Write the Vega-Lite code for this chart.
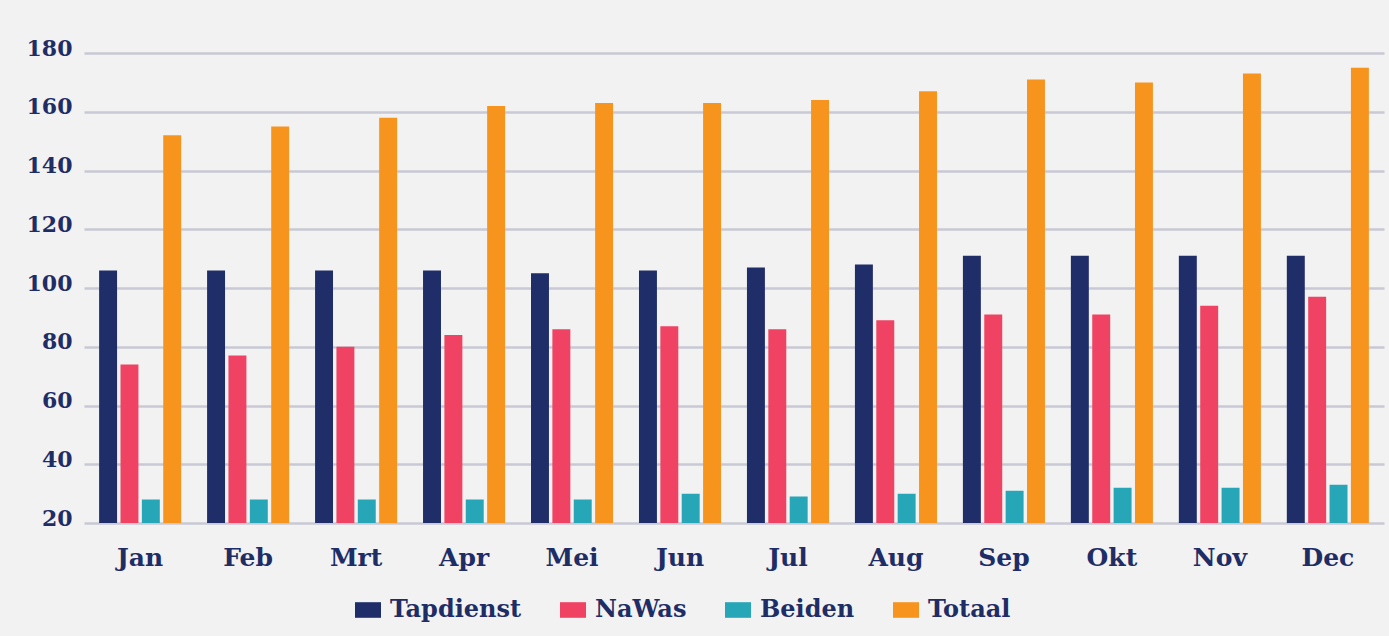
{
  "$schema": "https://vega.github.io/schema/vega-lite/v6.json",
  "width": 1300,
  "height": 470,
  "autosize": {"type": "none"},
  "padding": {"left": 84, "top": 53, "right": 5, "bottom": 113},
  "background": "#f2f2f2",
  "config": {
    "view": {"stroke": null},
    "font": "DejaVu Serif"
  },
  "data": {
    "values": [
      {"maand": "Jan", "reeks": "Tapdienst", "waarde": 106},
      {"maand": "Jan", "reeks": "NaWas", "waarde": 74},
      {"maand": "Jan", "reeks": "Beiden", "waarde": 28},
      {"maand": "Jan", "reeks": "Totaal", "waarde": 152},
      {"maand": "Feb", "reeks": "Tapdienst", "waarde": 106},
      {"maand": "Feb", "reeks": "NaWas", "waarde": 77},
      {"maand": "Feb", "reeks": "Beiden", "waarde": 28},
      {"maand": "Feb", "reeks": "Totaal", "waarde": 155},
      {"maand": "Mrt", "reeks": "Tapdienst", "waarde": 106},
      {"maand": "Mrt", "reeks": "NaWas", "waarde": 80},
      {"maand": "Mrt", "reeks": "Beiden", "waarde": 28},
      {"maand": "Mrt", "reeks": "Totaal", "waarde": 158},
      {"maand": "Apr", "reeks": "Tapdienst", "waarde": 106},
      {"maand": "Apr", "reeks": "NaWas", "waarde": 84},
      {"maand": "Apr", "reeks": "Beiden", "waarde": 28},
      {"maand": "Apr", "reeks": "Totaal", "waarde": 162},
      {"maand": "Mei", "reeks": "Tapdienst", "waarde": 105},
      {"maand": "Mei", "reeks": "NaWas", "waarde": 86},
      {"maand": "Mei", "reeks": "Beiden", "waarde": 28},
      {"maand": "Mei", "reeks": "Totaal", "waarde": 163},
      {"maand": "Jun", "reeks": "Tapdienst", "waarde": 106},
      {"maand": "Jun", "reeks": "NaWas", "waarde": 87},
      {"maand": "Jun", "reeks": "Beiden", "waarde": 30},
      {"maand": "Jun", "reeks": "Totaal", "waarde": 163},
      {"maand": "Jul", "reeks": "Tapdienst", "waarde": 107},
      {"maand": "Jul", "reeks": "NaWas", "waarde": 86},
      {"maand": "Jul", "reeks": "Beiden", "waarde": 29},
      {"maand": "Jul", "reeks": "Totaal", "waarde": 164},
      {"maand": "Aug", "reeks": "Tapdienst", "waarde": 108},
      {"maand": "Aug", "reeks": "NaWas", "waarde": 89},
      {"maand": "Aug", "reeks": "Beiden", "waarde": 30},
      {"maand": "Aug", "reeks": "Totaal", "waarde": 167},
      {"maand": "Sep", "reeks": "Tapdienst", "waarde": 111},
      {"maand": "Sep", "reeks": "NaWas", "waarde": 91},
      {"maand": "Sep", "reeks": "Beiden", "waarde": 31},
      {"maand": "Sep", "reeks": "Totaal", "waarde": 171},
      {"maand": "Okt", "reeks": "Tapdienst", "waarde": 111},
      {"maand": "Okt", "reeks": "NaWas", "waarde": 91},
      {"maand": "Okt", "reeks": "Beiden", "waarde": 32},
      {"maand": "Okt", "reeks": "Totaal", "waarde": 170},
      {"maand": "Nov", "reeks": "Tapdienst", "waarde": 111},
      {"maand": "Nov", "reeks": "NaWas", "waarde": 94},
      {"maand": "Nov", "reeks": "Beiden", "waarde": 32},
      {"maand": "Nov", "reeks": "Totaal", "waarde": 173},
      {"maand": "Dec", "reeks": "Tapdienst", "waarde": 111},
      {"maand": "Dec", "reeks": "NaWas", "waarde": 97},
      {"maand": "Dec", "reeks": "Beiden", "waarde": 33},
      {"maand": "Dec", "reeks": "Totaal", "waarde": 175}
    ]
  },
  "mark": {"type": "bar", "clip": true},
  "encoding": {
    "x": {
      "field": "maand",
      "type": "nominal",
      "sort": ["Jan", "Feb", "Mrt", "Apr", "Mei", "Jun", "Jul", "Aug", "Sep", "Okt", "Nov", "Dec"],
      "scale": {"paddingInner": 0.24, "paddingOuter": 0.14},
      "axis": {
        "title": null,
        "domain": false,
        "ticks": false,
        "labelAngle": 0,
        "labelFont": "DejaVu Serif",
        "labelFontWeight": "bold",
        "labelFontSize": 25,
        "labelColor": "#1f2d66",
        "labelPadding": 22
      }
    },
    "xOffset": {
      "field": "reeks",
      "type": "nominal",
      "sort": ["Tapdienst", "NaWas", "Beiden", "Totaal"],
      "scale": {"paddingInner": 0.16, "paddingOuter": 0}
    },
    "y": {
      "field": "waarde",
      "type": "quantitative",
      "scale": {"domain": [20, 180], "zero": false, "nice": false},
      "axis": {
        "title": null,
        "values": [20, 40, 60, 80, 100, 120, 140, 160, 180],
        "domain": false,
        "ticks": false,
        "grid": true,
        "gridColor": "#c8c9d4",
        "gridWidth": 2.5,
        "labelFont": "DejaVu Serif",
        "labelFontWeight": "bold",
        "labelFontSize": 22,
        "labelColor": "#1f2d66",
        "labelPadding": 12,
        "labelOffset": -5
      }
    },
    "color": {
      "field": "reeks",
      "type": "nominal",
      "sort": ["Tapdienst", "NaWas", "Beiden", "Totaal"],
      "scale": {
        "domain": ["Tapdienst", "NaWas", "Beiden", "Totaal"],
        "range": ["#1f2d69", "#f04263", "#26a6b6", "#f7941e"]
      },
      "legend": {
        "title": null,
        "orient": "none",
        "direction": "horizontal",
        "legendX": 271,
        "legendY": 544,
        "symbolType": "M-1,-0.6H1V0.6H-1Z",
        "symbolSize": 676,
        "symbolStrokeWidth": 0,
        "symbolOpacity": 1,
        "labelFont": "DejaVu Serif",
        "labelFontWeight": "bold",
        "labelFontSize": 24,
        "labelColor": "#1f2d66",
        "labelOffset": 9,
        "columnPadding": 38
      }
    }
  }
}
